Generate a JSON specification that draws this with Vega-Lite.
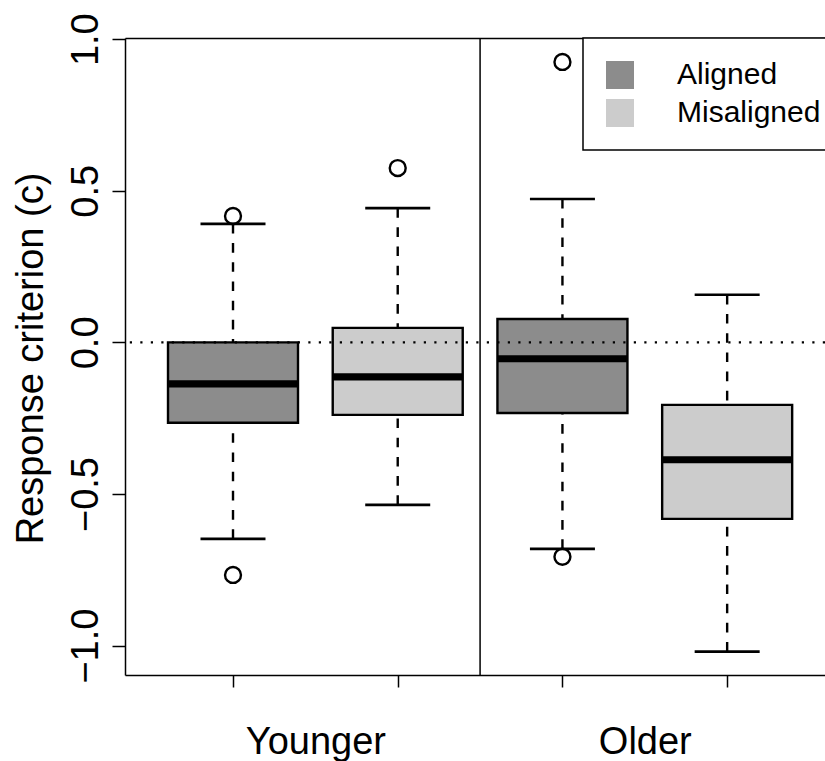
{
  "$schema": "https://vega.github.io/schema/vega-lite/v6.json",
  "autosize": {"type": "none"},
  "padding": {"left": 125, "top": 38, "right": 0, "bottom": 86},
  "width": 700,
  "height": 637,
  "background": "white",
  "config": {
    "view": {"stroke": null},
    "legend": {"strokeWidth": 1.5}
  },
  "datasets": {
    "boxes": [
      {"pos": 1, "group": "Younger", "cond": "Aligned", "lower": -0.648, "q1": -0.265, "median": -0.137, "q3": 0.0, "upper": 0.391},
      {"pos": 2, "group": "Younger", "cond": "Misaligned", "lower": -0.536, "q1": -0.239, "median": -0.114, "q3": 0.048, "upper": 0.443},
      {"pos": 3, "group": "Older", "cond": "Aligned", "lower": -0.681, "q1": -0.233, "median": -0.054, "q3": 0.077, "upper": 0.473},
      {"pos": 4, "group": "Older", "cond": "Misaligned", "lower": -1.02, "q1": -0.582, "median": -0.387, "q3": -0.206, "upper": 0.157}
    ],
    "outliers": [
      {"pos": 1, "value": 0.417},
      {"pos": 1, "value": -0.767},
      {"pos": 2, "value": 0.575},
      {"pos": 3, "value": 0.925},
      {"pos": 3, "value": -0.707}
    ],
    "refs": [
      {"zero": 0, "divider": 2.5}
    ]
  },
  "resolve": {"axis": {"x": "independent"}},
  "layer": [
    {
      "data": {"name": "boxes"},
      "mark": {"type": "rule", "strokeDash": [9.6, 9.6], "strokeWidth": 2.4, "color": "black"},
      "encoding": {
        "x": {"field": "pos", "type": "quantitative", "scale": {"domain": [0.3443, 4.594], "nice": false, "zero": false, "padding": 0}, "axis": null},
        "y": {"field": "upper", "type": "quantitative",
          "scale": {"domain": [-1.097, 1.004], "nice": false, "zero": false, "padding": 0},
          "axis": {
            "values": [-1, -0.5, 0, 0.5, 1], "format": ".1f",
            "title": "Response criterion (c)",
            "titleFontSize": 38, "titleFont": "Liberation Sans", "titleFontWeight": "normal", "titleColor": "black",
            "titleAngle": 270, "titleAlign": "center", "titleBaseline": "alphabetic", "titleX": -83, "titleY": 320,
            "labelFontSize": 38, "labelFont": "Liberation Sans", "labelColor": "black",
            "labelAngle": 270, "labelAlign": "center", "labelBaseline": "alphabetic", "labelPadding": 15,
            "tickSize": 13, "tickWidth": 1.5, "tickColor": "black",
            "domainColor": "black", "domainWidth": 1.5, "grid": false,
            "labelFlush": false, "labelOverlap": false
          }
        },
        "y2": {"field": "q3"}
      }
    },
    {
      "data": {"name": "boxes"},
      "mark": {"type": "rule", "strokeDash": [9.6, 9.6], "strokeWidth": 2.4, "color": "black"},
      "encoding": {
        "x": {"field": "pos", "type": "quantitative", "axis": null},
        "y": {"field": "lower", "type": "quantitative"},
        "y2": {"field": "q1"}
      }
    },
    {
      "data": {"name": "boxes"},
      "mark": {"type": "tick", "orient": "horizontal", "size": 65, "thickness": 2.6, "color": "black", "opacity": 1},
      "encoding": {
        "x": {"field": "pos", "type": "quantitative", "axis": null},
        "y": {"field": "upper", "type": "quantitative"}
      }
    },
    {
      "data": {"name": "boxes"},
      "mark": {"type": "tick", "orient": "horizontal", "size": 65, "thickness": 2.6, "color": "black", "opacity": 1},
      "encoding": {
        "x": {"field": "pos", "type": "quantitative", "axis": null},
        "y": {"field": "lower", "type": "quantitative"}
      }
    },
    {
      "data": {"name": "boxes"},
      "mark": {"type": "bar", "size": 130, "stroke": "black", "strokeWidth": 2.4, "opacity": 1},
      "encoding": {
        "x": {"field": "pos", "type": "quantitative",
          "axis": {
            "orient": "bottom",
            "values": [1, 1.5, 2, 3, 3.5, 4], "title": null,
            "domainColor": "black", "domainWidth": 1.5,
            "tickColor": {"condition": {"test": "datum.value == 1.5 || datum.value == 3.5", "value": "transparent"}, "value": "black"},
            "tickWidth": 1.5, "tickSize": 12,
            "labelExpr": "datum.value == 1.5 ? 'Younger' : (datum.value == 3.5 ? 'Older' : '')",
            "labelFontSize": 38, "labelFont": "Liberation Sans", "labelColor": "black",
            "labelPadding": 66, "labelBaseline": "alphabetic", "labelAlign": "center", "labelAngle": 0,
            "labelFlush": false, "labelOverlap": false, "grid": false
          }
        },
        "y": {"field": "q3", "type": "quantitative"},
        "y2": {"field": "q1"},
        "fill": {"field": "cond", "type": "nominal",
          "scale": {"domain": ["Aligned", "Misaligned"], "range": ["#8c8c8c", "#cccccc"]},
          "legend": {
            "orient": "none", "legendX": 458, "legendY": 0, "title": null,
            "symbolType": "square", "symbolSize": 784, "symbolStrokeWidth": 0, "symbolOpacity": 1,
            "labelFontSize": 30, "labelFont": "Liberation Sans", "labelColor": "black", "labelLimit": 300,
            "labelOffset": 42, "rowPadding": 8, "padding": 22,
            "strokeColor": "black", "fillColor": "white"
          }
        }
      }
    },
    {
      "data": {"name": "boxes"},
      "mark": {"type": "tick", "orient": "horizontal", "size": 130, "thickness": 7.2, "color": "black", "opacity": 1},
      "encoding": {
        "x": {"field": "pos", "type": "quantitative", "axis": null},
        "y": {"field": "median", "type": "quantitative"}
      }
    },
    {
      "data": {"name": "outliers"},
      "mark": {"type": "point", "shape": "circle", "filled": false, "size": 254, "stroke": "black", "strokeWidth": 2.4, "opacity": 1},
      "encoding": {
        "x": {"field": "pos", "type": "quantitative", "axis": null},
        "y": {"field": "value", "type": "quantitative"}
      }
    },
    {
      "data": {"name": "refs"},
      "mark": {"type": "rule", "strokeDash": [2.2, 8.3], "strokeWidth": 2.2, "color": "black"},
      "encoding": {
        "y": {"field": "zero", "type": "quantitative"}
      }
    },
    {
      "data": {"name": "refs"},
      "mark": {"type": "rule", "strokeWidth": 1.5, "color": "black"},
      "encoding": {
        "x": {"field": "divider", "type": "quantitative",
          "axis": {"orient": "top", "ticks": false, "labels": false, "domain": true, "domainColor": "black", "domainWidth": 1.5, "title": null, "grid": false}
        }
      }
    }
  ]
}
